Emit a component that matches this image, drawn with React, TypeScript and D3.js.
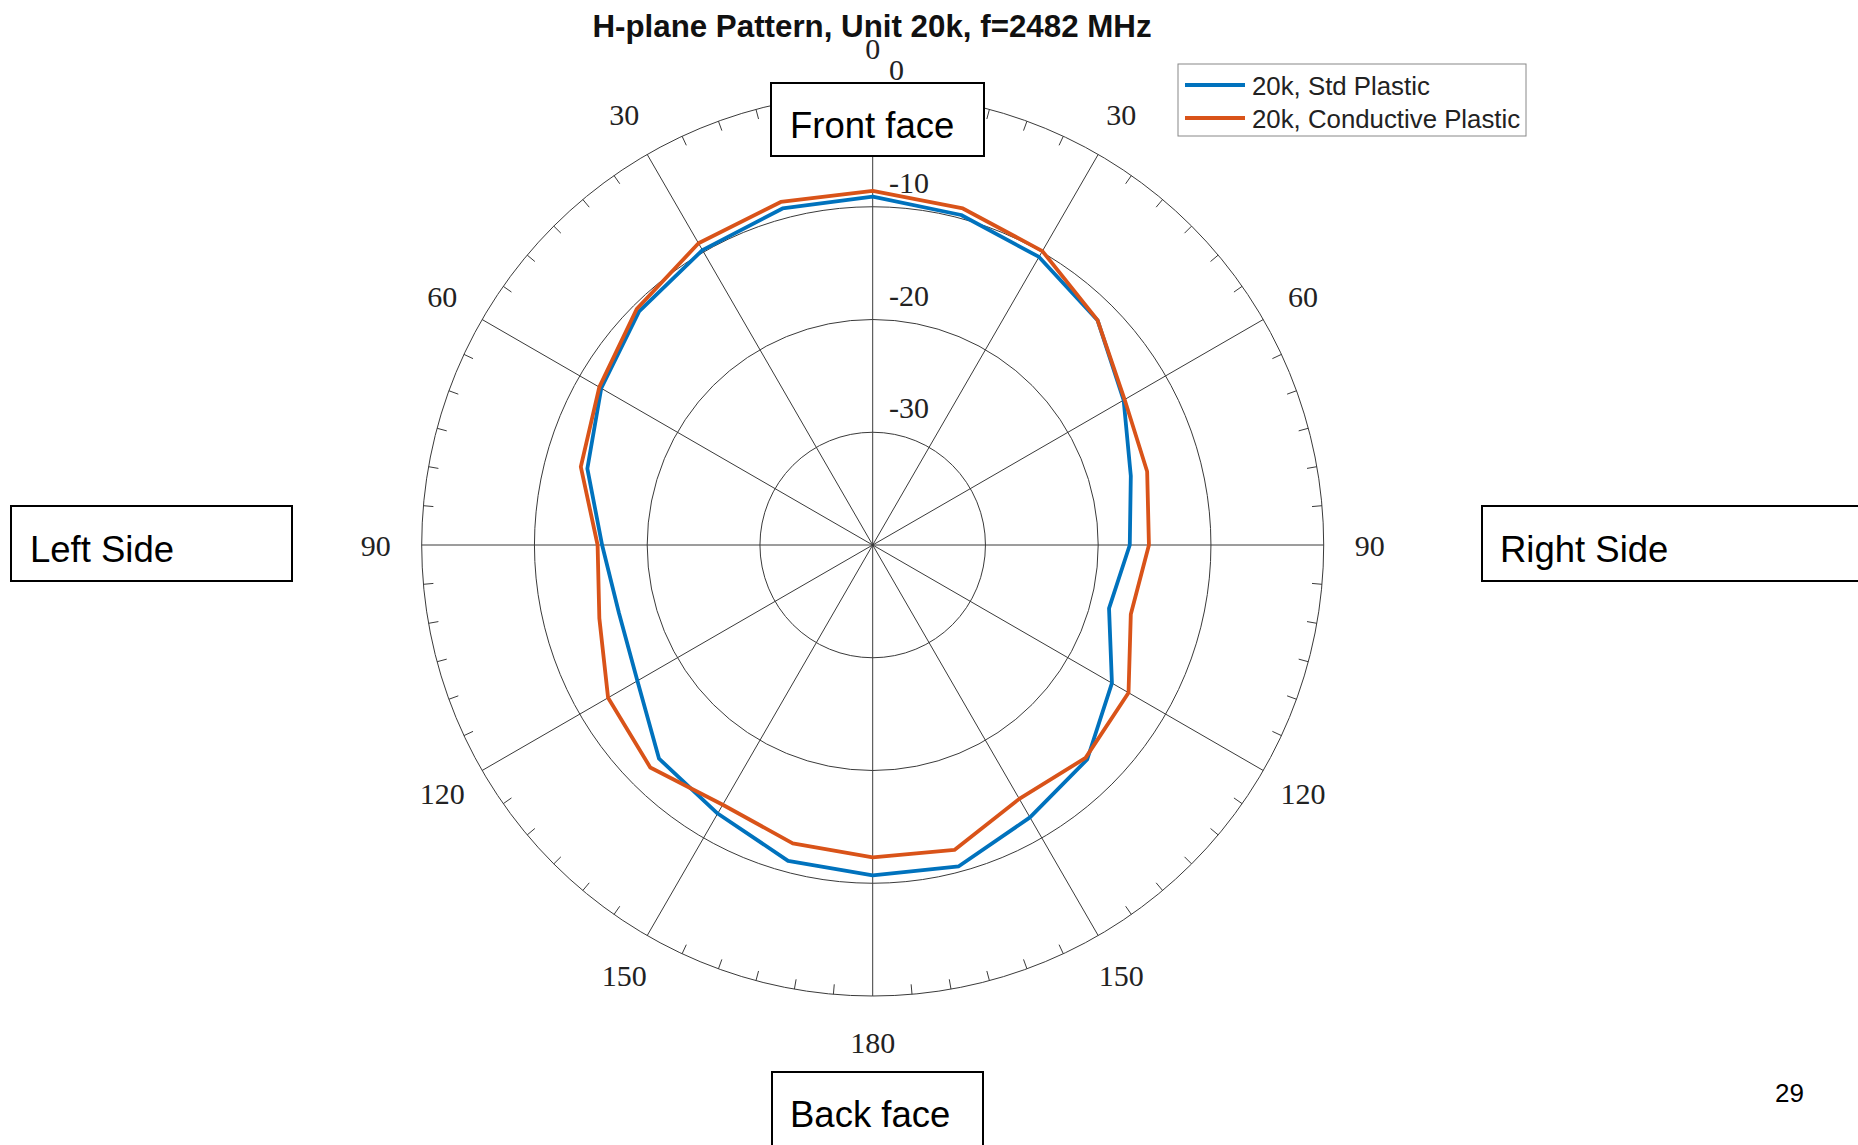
import React from 'react';
import * as d3 from 'd3';

// ---- data (angle measured clockwise from top, degrees; values in dB) ----
const angles = [0, 15, 30, 45, 60, 75, 90, 105, 120, 135, 150, 165, 180, 195, 210, 225, 240, 255, 270, 285, 300, 315, 330, 345];
const stdPlastic = [-9.1, -9.7, -10.5, -11.8, -14.3, -16.3, -17.2, -18.3, -15.5, -13.1, -12.1, -10.5, -10.7, -11.0, -12.5, -13.2, -15.9, -16.7, -16.0, -13.8, -12.2, -10.7, -9.8, -9.1];
const conductivePlastic = [-8.6, -9.1, -9.9, -11.8, -14.2, -14.8, -15.5, -16.3, -13.8, -13.3, -14.0, -12.0, -12.3, -12.6, -13.4, -12.1, -12.9, -14.9, -15.6, -13.2, -12.0, -10.4, -9.1, -8.5];
const seriesNames = ['20k, Std Plastic', '20k, Conductive Plastic'];
const seriesColors = ['#0072BD', '#D95319'];
const ringValues = [0, -10, -20, -30];
const spokeAngles = [0, 30, 60, 90, 120, 150, 180, 210, 240, 270, 300, 330];
const spokeLabels = ['0', '30', '60', '90', '120', '150', '180', '150', '120', '90', '60', '30'];
const title = 'H-plane Pattern, Unit 20k, f=2482 MHz';
const pageNumber = '29';

const W = 1858, H = 1145;
const cx = 872.7, cy = 545, R = 451;
const serif = '"Liberation Serif", "Times New Roman", serif';
const sans = '"Liberation Sans", Arial, sans-serif';

const rad = (a: number) => (a * Math.PI) / 180;
const px = (a: number, rr: number) => cx + rr * Math.sin(rad(a));
const py = (a: number, rr: number) => cy - rr * Math.cos(rad(a));

export default function App() {
  const r = d3.scaleLinear().domain([-40, 0]).range([0, R]);
  const line = d3
    .lineRadial<number>()
    .angle((_d, i) => rad(angles[i]))
    .radius((d) => r(d))
    .curve(d3.curveLinearClosed);
  const ticks = d3.range(0, 360, 5).filter((a) => a % 30 !== 0);
  const grid = '#3a3a3a';
  const series = [stdPlastic, conductivePlastic];

  const boxes = [
    { label: 'Front face', x: 771, y: 83, w: 213, h: 73, tx: 790, ty: 138 },
    { label: 'Left Side', x: 11, y: 506, w: 281, h: 75, tx: 30, ty: 562 },
    { label: 'Right Side', x: 1482, y: 506, w: 420, h: 75, tx: 1500, ty: 562 },
    { label: 'Back face', x: 772, y: 1072, w: 211, h: 100, tx: 790, ty: 1127 },
  ];

  return (
    <svg
      width={W}
      height={H}
      style={{ position: 'absolute', left: 0, top: 0, background: '#fff' }}
    >
      <rect x={0} y={0} width={W} height={H} fill="#fff" />
      {/* rings */}
      {ringValues.map((v) => (
        <circle key={v} cx={cx} cy={cy} r={r(v)} fill="none" stroke={grid} strokeWidth={1} />
      ))}
      {/* spokes */}
      {spokeAngles.map((a) => (
        <line key={a} x1={cx} y1={cy} x2={px(a, R)} y2={py(a, R)} stroke={grid} strokeWidth={1} />
      ))}
      {/* ticks */}
      {ticks.map((a) => (
        <line key={a} x1={px(a, R)} y1={py(a, R)} x2={px(a, R - 10)} y2={py(a, R - 10)} stroke={grid} strokeWidth={1} />
      ))}
      {/* angle labels */}
      {spokeAngles.map((a, i) => (
        <text key={a} x={px(a, 497)} y={py(a, 497)} textAnchor="middle" dominantBaseline="central" fontFamily={serif} fontSize={30} fill="#222">
          {spokeLabels[i]}
        </text>
      ))}
      {/* dB labels */}
      {ringValues.map((v) => (
        <text key={v} x={889} y={cy - r(v) - 14} fontFamily={serif} fontSize={30} fill="#222">
          {String(v)}
        </text>
      ))}
      {/* data */}
      {series.map((s, i) => (
        <path key={i} d={line(s) || ''} transform={`translate(${cx},${cy})`} fill="none" stroke={seriesColors[i]} strokeWidth={3.8} strokeLinejoin="round" />
      ))}
      {/* title */}
      <text x={872} y={37} textAnchor="middle" fontFamily={sans} fontWeight="bold" fontSize={31.3} fill="#111">
        {title}
      </text>
      {/* legend */}
      <rect x={1178} y={64} width={348} height={72} fill="#fff" stroke="#888" strokeWidth={1} />
      {seriesNames.map((n, i) => (
        <g key={n}>
          <line x1={1185} x2={1245} y1={85 + i * 33} y2={85 + i * 33} stroke={seriesColors[i]} strokeWidth={3.8} />
          <text x={1252} y={86 + i * 33} dominantBaseline="central" fontFamily={sans} fontSize={25.8} fill="#222">
            {n}
          </text>
        </g>
      ))}
      {/* annotation boxes */}
      {boxes.map((b) => (
        <g key={b.label}>
          <rect x={b.x} y={b.y} width={b.w} height={b.h} fill="#fff" stroke="#000" strokeWidth={2} />
          <text x={b.tx} y={b.ty} fontFamily={sans} fontSize={36.5} fill="#000">
            {b.label}
          </text>
        </g>
      ))}
      <text x={1775} y={1102} fontFamily={sans} fontSize={26} fill="#000">
        {pageNumber}
      </text>
    </svg>
  );
}
